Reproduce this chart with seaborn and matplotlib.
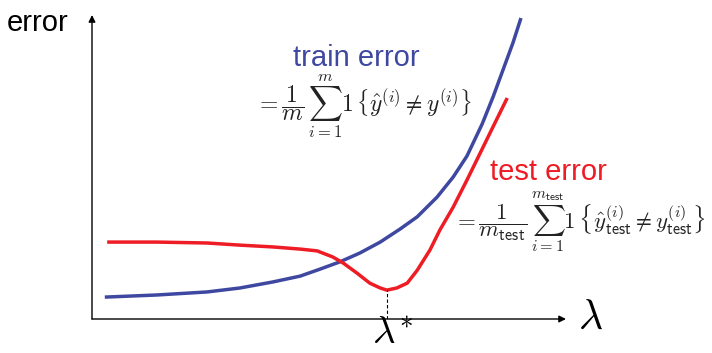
import matplotlib
matplotlib.use("Agg")
import numpy as np
import pandas as pd
import seaborn as sns
import matplotlib.pyplot as plt

# ---- data (lambda on x, error on y, arbitrary units 0..10) ----
lam_train = [0.27, 1.37, 2.43, 3.12, 3.82, 4.39, 4.81, 5.23, 5.65, 6.08, 6.50, 6.86,
             7.28, 7.62, 7.91, 8.23, 8.46, 8.67, 8.88, 9.05]
err_train = [0.72, 0.79, 0.89, 1.02, 1.22, 1.41, 1.64, 1.88, 2.17, 2.53, 2.96, 3.36,
             4.01, 4.67, 5.36, 6.41, 7.30, 8.19, 9.08, 9.90]

lam_test = [0.32, 1.37, 2.43, 3.12, 3.82, 4.39, 4.75, 5.08, 5.30, 5.59, 5.86, 6.08,
            6.22, 6.43, 6.65, 6.86, 7.13, 7.34, 7.62, 7.91, 8.19, 8.46, 8.76]
err_test = [2.53, 2.53, 2.50, 2.43, 2.37, 2.30, 2.24, 2.04, 1.84, 1.51, 1.18, 1.02,
            0.95, 1.02, 1.18, 1.60, 2.27, 2.93, 3.68, 4.57, 5.46, 6.32, 7.27]

lam_star = 6.22
err_star = 0.95

BLUE = "#3F48A0"
RED = "#EE1C24"

sns.set_theme(style="white")
plt.rcParams["font.family"] = ["Liberation Sans", "DejaVu Sans"]
plt.rcParams["mathtext.fontset"] = "cm"

W, H = 712, 353
fig = plt.figure(figsize=(W / 100, H / 100), dpi=100)
ax = fig.add_axes([92 / W, 34 / H, 474 / W, 304 / H])

df_train = pd.DataFrame({"lam": lam_train, "err": err_train})
df_test = pd.DataFrame({"lam": lam_test, "err": err_test})
line_kw = dict(lw=2.5, sort=False, solid_joinstyle="round", solid_capstyle="butt")
sns.lineplot(data=df_train, x="lam", y="err", color=BLUE, ax=ax, **line_kw)
sns.lineplot(data=df_test, x="lam", y="err", color=RED, ax=ax, **line_kw)
ax.plot([lam_star, lam_star], [0, err_star], color="black", lw=0.8, ls=(0, (3, 2)))

ax.set_xlim(0, 10)
ax.set_ylim(0, 10)
ax.axis("off")

arrow = dict(arrowstyle="-|>", color="black", lw=1.0, mutation_scale=10, shrinkA=0, shrinkB=0)
ax.annotate("", xy=(1, 0), xytext=(0, 0), xycoords="axes fraction", arrowprops=arrow)
ax.annotate("", xy=(0, 1), xytext=(0, 0), xycoords="axes fraction", arrowprops=arrow)

def ft(px, py, s, **kw):
    fig.text(px / W, 1 - py / H, s, **kw)

ft(7, 23, "error", fontsize=21, ha="left", va="center", color="black")
ft(293, 58, "train error", fontsize=21, ha="left", va="center", color=BLUE)
ft(490, 172, "test error", fontsize=21, ha="left", va="center", color=RED)

train_eq = (r"$=\dfrac{1}{m}\,\sum_{i=1}^{m}\mathbf{1}\,"
            r"\left\{\hat{y}^{(i)}\neq y^{(i)}\right\}$")
test_eq = (r"$=\dfrac{1}{m_{\mathsf{test}}}\,\sum_{i=1}^{m_{\mathsf{test}}}\mathbf{1}\,"
           r"\left\{\hat{y}_{\mathsf{test}}^{(i)}\neq y_{\mathsf{test}}^{(i)}\right\}$")
ft(255, 106, train_eq, fontsize=17, ha="left", va="center", color="#222222")
ft(453, 222, test_eq, fontsize=16.5, ha="left", va="center", color="#222222")

ft(578, 318, r"$\lambda$", fontsize=30, ha="left", va="center", color="black")
ft(372, 352, r"$\lambda^{*}$", fontsize=28, ha="left", va="bottom", color="black")

fig.savefig("out.png", dpi=100)
